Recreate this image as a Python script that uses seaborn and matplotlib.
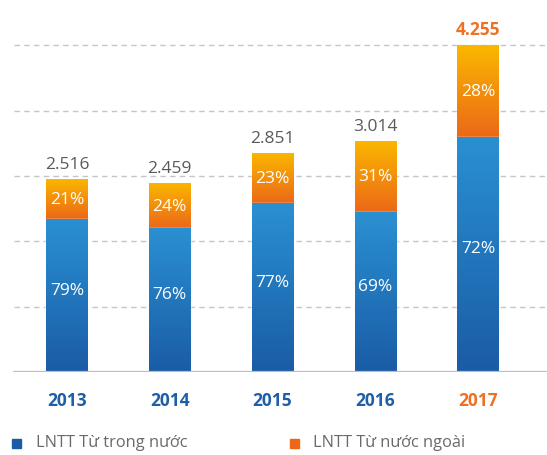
import numpy as np
import pandas as pd
import seaborn as sns
import matplotlib.pyplot as plt
from matplotlib.colors import LinearSegmentedColormap

# Data
years = ["2013", "2014", "2015", "2016", "2017"]
totals = [2.516, 2.459, 2.851, 3.014, 4.255]
total_labels = ["2.516", "2.459", "2.851", "3.014", "4.255"]
domestic_pct = [79, 76, 77, 69, 72]
foreign_pct = [21, 24, 23, 31, 28]
legend_labels = ["LNTT Từ trong nước", "LNTT Từ nước ngoài"]

BLUE_TOP, BLUE_BOT = "#2a90d2", "#1a5ca6"
ORANGE_TOP, ORANGE_BOT = "#fab800", "#ec6818"
YEAR_BLUE, YEAR_ORANGE = "#1f5fa8", "#f07022"

df = pd.DataFrame({
    "year": years,
    "total": totals,
    "domestic": [t * p / 100 for t, p in zip(totals, domestic_pct)],
})

sns.set_style("white")
plt.rcParams["font.family"] = ["Open Sans", "DejaVu Sans"]

fig = plt.figure(figsize=(5.47, 4.56), dpi=100)
ax = fig.add_axes([0, 83 / 456, 1, 373 / 456])

# full-height bars (foreign on top) then domestic bars over them
sns.barplot(data=df, x="year", y="total", color=ORANGE_BOT, width=0.4,
            saturation=1, ax=ax, zorder=3)
n = len(ax.patches)
sns.barplot(data=df, x="year", y="domestic", color=BLUE_BOT, width=0.4,
            saturation=1, ax=ax, zorder=4)

XLIM = (-0.652, 4.672)
YLIM = (0, 373 / 76.8)

# vertical gradients clipped to each bar
grad = np.linspace(0, 1, 256).reshape(-1, 1)
cmap_o = LinearSegmentedColormap.from_list("o", [ORANGE_BOT, ORANGE_TOP])
cmap_b = LinearSegmentedColormap.from_list("b", [BLUE_BOT, BLUE_TOP])
for i, p in enumerate(ax.patches):
    x0, y0 = p.get_x(), p.get_y()
    w, h = p.get_width(), p.get_height()
    if i < n:
        # gradient only over the foreign segment
        y0 = df["domestic"][i]
        h = df["total"][i] - y0
        cm, z = cmap_o, 3.5
    else:
        cm, z = cmap_b, 4.5
    im = ax.imshow(grad, cmap=cm, origin="lower", aspect="auto",
                   extent=(x0, x0 + w, y0, y0 + h), zorder=z)
    im.set_clip_path(p)
ax.set_xlim(*XLIM)
ax.set_ylim(*YLIM)

# dashed gridlines
step = totals[-1] / 5
for k in range(1, 6):
    ax.axhline(k * step, xmin=14 / 547, color="#c6c6c6", lw=1,
               ls=(0, (4, 3)), zorder=1)
ax.axhline(0, xmin=14 / 547, color="#bdbdbd", lw=1.6, zorder=5)

# labels
for i, yr in enumerate(years):
    dom = df["domestic"][i]
    tot = totals[i]
    ax.text(i, dom / 2 + 0.08, f"{domestic_pct[i]}%", color="white",
            ha="center", va="center", fontsize=12.5, zorder=6)
    ax.text(i, (dom + tot) / 2, f"{foreign_pct[i]}%", color="white",
            ha="center", va="center", fontsize=12.5, zorder=6)
    last = i == len(years) - 1
    ax.text(i, tot + 0.09, total_labels[i], ha="center", va="bottom",
            fontsize=12.5, color=YEAR_ORANGE if last else "#5a5a5a",
            fontweight="bold" if last else "normal", zorder=6)

ax.set_xticks(range(len(years)))
ax.set_xticklabels(years, fontsize=12.5, fontweight="bold")
for lbl, c in zip(ax.get_xticklabels(), [YEAR_BLUE] * 4 + [YEAR_ORANGE]):
    lbl.set_color(c)
ax.tick_params(axis="x", length=0, pad=14)
ax.set_yticks([])
ax.set_xlabel("")
ax.set_ylabel("")
sns.despine(ax=ax, left=True, bottom=True)

# legend drawn as figure text
for xm, xt, col, lab in [(16, 36, BLUE_BOT, legend_labels[0]),
                         (294, 313, ORANGE_BOT, legend_labels[1])]:
    fig.patches.append(plt.Rectangle((xm / 547 - 4.5 / 547, 1 - 448.5 / 456),
                                     9 / 547, 9 / 456, color=col,
                                     transform=fig.transFigure, figure=fig))
    fig.text(xt / 547, 1 - 443 / 456, lab, fontsize=11.8, color="#6a6a6a",
             va="center", ha="left")

fig.savefig("out.png", dpi=100)
